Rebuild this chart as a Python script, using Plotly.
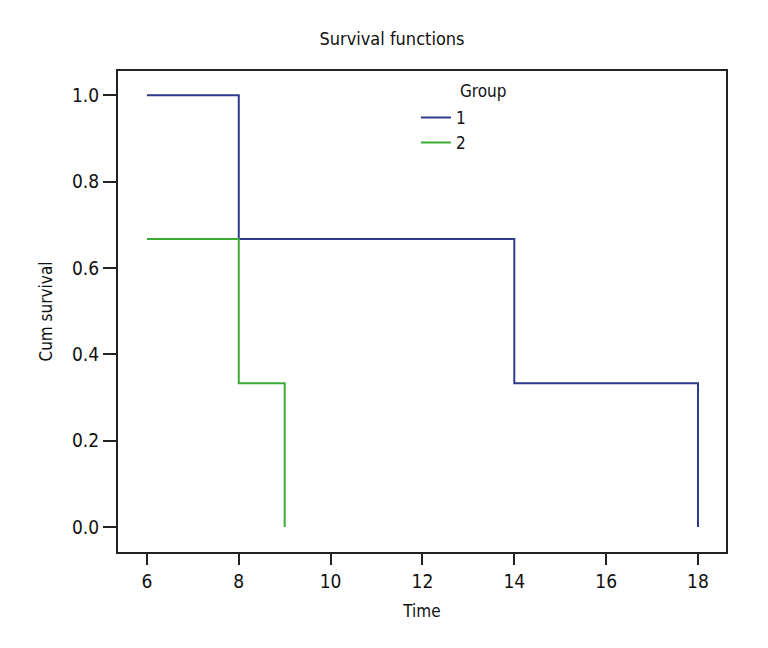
import plotly.graph_objects as go

# Kaplan-Meier step points
group1_time = [6, 8, 8, 14, 14, 18, 18]
group1_surv = [1.0, 1.0, 0.667, 0.667, 0.333, 0.333, 0.0]
group2_time = [6, 8, 8, 9, 9]
group2_surv = [0.667, 0.667, 0.333, 0.333, 0.0]

x_ticks = [6, 8, 10, 12, 14, 16, 18]
y_ticks = [0.0, 0.2, 0.4, 0.6, 0.8, 1.0]

FONT = "DejaVu Sans Condensed, Liberation Sans Narrow, sans-serif"

fig = go.Figure()
fig.add_trace(go.Scatter(x=group1_time, y=group1_surv, mode="lines", name="1",
                         line=dict(color="#2e3a8c", width=2)))
fig.add_trace(go.Scatter(x=group2_time, y=group2_surv, mode="lines", name="2",
                         line=dict(color="#3daa35", width=2)))

fig.update_layout(
    width=768, height=648,
    paper_bgcolor="white", plot_bgcolor="white",
    margin=dict(l=110, r=50, t=63, b=104, autoexpand=False),
    font=dict(family=FONT, size=19, color="#111"),
    title=dict(text="Survival functions", x=0.5, xanchor="center", y=0.962,
               font=dict(family=FONT, size=18, color="#111")),
    legend=dict(x=0.49, y=0.94, xanchor="left", yanchor="top",
                bgcolor="rgba(0,0,0,0)", font=dict(size=17),
                tracegroupgap=0, itemwidth=30),
    annotations=[dict(text="Group", x=0.559, y=0.958, xref="paper", yref="paper",
                      xanchor="left", yanchor="middle", showarrow=False,
                      font=dict(family=FONT, size=17, color="#111"))],
)
fig.update_xaxes(range=[5.37, 18.61], tickvals=x_ticks,
                 title=dict(text="Time", standoff=14, font=dict(size=17)),
                 showline=True, linecolor="#222", linewidth=2, mirror=True,
                 ticks="outside", ticklen=11, tickwidth=2, tickcolor="#222",
                 showgrid=False, zeroline=False, automargin=False)
fig.update_yaxes(range=[-0.058, 1.056], tickvals=y_ticks, tickformat=".1f",
                 title=dict(text="Cum survival", standoff=15, font=dict(size=17)),
                 showline=True, linecolor="#222", linewidth=2, mirror=True,
                 ticks="outside", ticklen=13, tickwidth=2, tickcolor="#222",
                 showgrid=False, zeroline=False, automargin=False)

fig.write_html("out.html")
